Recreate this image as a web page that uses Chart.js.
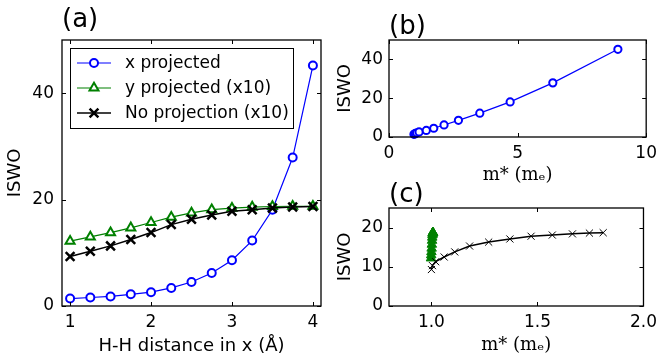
<!DOCTYPE html>
<html lang="en">
<head>
<meta charset="UTF-8">
<title>ISWO vs H-H distance and effective mass</title>
<script src="https://cdn.jsdelivr.net/npm/chart.js@4.4.0/dist/chart.umd.min.js"></script>
<style>
    html, body { margin: 0; padding: 0; background: #fff; }
    #wrap { position: relative; width: 663px; height: 362px; overflow: hidden; }
    canvas { position: absolute; }
</style>
</head>
<body>
<div id="wrap">
    <canvas id="panelA" width="340" height="362" style="left:0;top:0"></canvas>
    <canvas id="panelB" width="333" height="190" style="left:330px;top:0"></canvas>
    <canvas id="panelC" width="333" height="192" style="left:330px;top:170px"></canvas>
</div>
<script>
// H-H distance in x (Angstrom)
const hhDistance = [1, 1.25, 1.5, 1.75, 2, 2.25, 2.5, 2.75, 3, 3.25, 3.5, 3.75, 4];
// ISWO values
const iswoXProj  = [1.4, 1.6, 1.8, 2.2, 2.6, 3.4, 4.5, 6.2, 8.6, 12.3, 18.1, 27.9, 45.2];
const iswoYProj  = [12.2, 13.0, 13.8, 14.7, 15.7, 16.7, 17.5, 18.1, 18.4, 18.6, 18.7, 18.75, 18.75];
const iswoNoProj = [9.3, 10.3, 11.3, 12.5, 13.8, 15.3, 16.3, 17.1, 17.8, 18.1, 18.4, 18.6, 18.7];
// effective mass m* (m_e)
const massXProj  = [0.97, 1.0, 1.03, 1.08, 1.17, 1.45, 1.74, 2.14, 2.70, 3.53, 4.71, 6.37, 8.9];
const massYProj  = [0.998, 0.999, 1.0, 1.001, 1.002, 1.003, 1.004, 1.005, 1.006, 1.006, 1.007, 1.007, 1.007];
const massNoProj = [1.0, 1.005, 1.02, 1.06, 1.11, 1.18, 1.27, 1.37, 1.47, 1.57, 1.665, 1.745, 1.81];

// tick labels
const ticksAX = [1, 2, 3, 4];
const ticksAY = [0, 20, 40];
const ticksBX = [0, 5, 10];
const ticksBY = [0, 20, 40];
const ticksCX = [1.0, 1.5, 2.0];
const ticksCY = [0, 10, 20];

const legendLabels = ['x projected', 'y projected (x10)', 'No projection (x10)'];

const SANS = "'DejaVu Sans', sans-serif";
const SERIF = "'DejaVu Serif', serif";
const BLUE = '#0000ff', GREEN = '#008000', BLACK = '#000000';

function pts(xs, ys) { return xs.map((x, i) => ({ x: x, y: ys[i] })); }

// draws box, inward tick marks on all four sides and the panel letter
const framePlugin = {
    id: 'frame',
    afterDraw(chart, args, opts) {
        const { ctx, chartArea: a } = chart;
        const x = chart.scales.x, y = chart.scales.y;
        ctx.save();
        ctx.strokeStyle = '#000';
        ctx.lineWidth = 1.3;
        ctx.strokeRect(a.left, a.top, a.right - a.left, a.bottom - a.top);
        ctx.lineWidth = 1;
        ctx.beginPath();
        x.ticks.forEach(t => {
            const p = Math.round(x.getPixelForValue(t.value)) + 0.5;
            ctx.moveTo(p, a.bottom); ctx.lineTo(p, a.bottom - 4);
            ctx.moveTo(p, a.top); ctx.lineTo(p, a.top + 4);
        });
        y.ticks.forEach(t => {
            const p = Math.round(y.getPixelForValue(t.value)) + 0.5;
            ctx.moveTo(a.left, p); ctx.lineTo(a.left + 4, p);
            ctx.moveTo(a.right, p); ctx.lineTo(a.right - 4, p);
        });
        ctx.stroke();
        if (opts.label) {
            ctx.fillStyle = '#000';
            ctx.font = '26px ' + SANS;
            ctx.textAlign = 'left';
            ctx.textBaseline = 'alphabetic';
            ctx.fillText(opts.label, a.left, a.top - opts.gap);
        }
        ctx.restore();
    }
};

function marker(ctx, style, x, y, color) {
    ctx.strokeStyle = color;
    ctx.fillStyle = '#fff';
    ctx.lineWidth = 2;
    ctx.beginPath();
    if (style === 'circle') {
        ctx.arc(x, y, 4, 0, Math.PI * 2);
        ctx.fill(); ctx.stroke();
    } else if (style === 'triangle') {
        const r = 5.2;
        ctx.moveTo(x, y - r);
        ctx.lineTo(x + r * 0.866, y + r / 2);
        ctx.lineTo(x - r * 0.866, y + r / 2);
        ctx.closePath();
        ctx.fill(); ctx.stroke();
    } else {
        const d = 4.4;
        ctx.lineWidth = 2.5;
        ctx.moveTo(x - d, y - d); ctx.lineTo(x + d, y + d);
        ctx.moveTo(x - d, y + d); ctx.lineTo(x + d, y - d);
        ctx.stroke();
    }
}

// legend box drawn inside the plot area of panel (a)
const boxLegend = {
    id: 'boxLegend',
    afterDraw(chart) {
        const ctx = chart.ctx;
        const a = chart.chartArea;
        const bx = a.left + 8, by = a.top + 8, bw = 223, bh = 80;
        ctx.save();
        ctx.fillStyle = '#fff';
        ctx.fillRect(bx, by, bw, bh);
        ctx.strokeStyle = '#000';
        ctx.lineWidth = 1;
        ctx.strokeRect(bx + 0.5, by + 0.5, bw, bh);
        chart.data.datasets.forEach((ds, i) => {
            const ry = by + 15 + i * 25;
            ctx.strokeStyle = ds.borderColor;
            ctx.lineWidth = ds.borderWidth;
            ctx.beginPath();
            ctx.moveTo(bx + 7, ry); ctx.lineTo(bx + 41, ry);
            ctx.stroke();
            marker(ctx, ds.pointStyle, bx + 24, ry, ds.borderColor);
            ctx.fillStyle = '#000';
            ctx.font = '17px ' + SANS;
            ctx.textAlign = 'left';
            ctx.textBaseline = 'middle';
            ctx.fillText(legendLabels[i], bx + 55, ry + 1);
        });
        ctx.restore();
    }
};

function fixedTicks(values) {
    return scale => { scale.ticks = values.map(v => ({ value: v })); };
}

function axes(o) {
    return {
        x: {
            type: 'linear', min: o.xmin, max: o.xmax,
            afterBuildTicks: fixedTicks(o.xticks),
            afterFit: s => { s.height = o.xh; },
            grid: { display: false, drawTicks: false },
            border: { display: false },
            ticks: {
                color: '#000', padding: 6, maxRotation: 0, autoSkip: false,
                font: { family: SANS, size: 17 },
                callback: o.xfmt || (v => v)
            },
            title: {
                display: true, text: o.xtitle, color: '#000',
                font: { family: o.xfont, size: o.xsize },
                padding: { top: 0, bottom: o.xpad }
            }
        },
        y: {
            type: 'linear', min: o.ymin, max: o.ymax,
            afterBuildTicks: fixedTicks(o.yticks),
            afterFit: s => { s.width = o.yw; },
            grid: { display: false, drawTicks: false },
            border: { display: false },
            ticks: {
                color: '#000', padding: o.ypadTick, autoSkip: false,
                font: { family: SANS, size: 17 }
            },
            title: {
                display: true, text: 'ISWO', color: '#000',
                font: { family: SANS, size: 18 },
                padding: { top: o.ypad, bottom: 0 }
            }
        }
    };
}

const common = {
    responsive: false,
    animation: false,
    devicePixelRatio: 1,
    plugins: { legend: { display: false }, tooltip: { enabled: false } }
};

// panel (a)
new Chart(document.getElementById('panelA'), {
    type: 'line',
    data: {
        datasets: [
            {
                data: pts(hhDistance, iswoXProj), borderColor: BLUE, borderWidth: 1.2,
                pointStyle: 'circle', pointRadius: 4, pointBorderWidth: 2,
                pointBackgroundColor: '#fff', pointBorderColor: BLUE, order: 3
            },
            {
                data: pts(hhDistance, iswoYProj), borderColor: GREEN, borderWidth: 1.2,
                pointStyle: 'triangle', pointRadius: 5.2, pointBorderWidth: 2,
                pointBackgroundColor: '#fff', pointBorderColor: GREEN, order: 2
            },
            {
                data: pts(hhDistance, iswoNoProj), borderColor: BLACK, borderWidth: 1.5,
                pointStyle: 'crossRot', pointRadius: 6.2, pointBorderWidth: 2.5,
                pointBorderColor: BLACK, order: 1
            }
        ]
    },
    options: Object.assign({}, common, {
        layout: { padding: { top: 40, right: 19, bottom: 0, left: 0 } },
        elements: { line: { tension: 0 } },
        datasets: { line: { clip: false } },
        scales: axes({
            xmin: 0.9, xmax: 4.1, xticks: ticksAX, xh: 56, xpad: 5,
            xtitle: 'H-H distance in x (Å)', xfont: SANS, xsize: 18,
            ymin: 0, ymax: 50, yticks: ticksAY, yw: 62, ypad: 5, ypadTick: 8
        }),
        plugins: Object.assign({}, common.plugins, { frame: { label: '(a)', gap: 13 } })
    }),
    plugins: [framePlugin, boxLegend]
});

// panel (b)
new Chart(document.getElementById('panelB'), {
    type: 'line',
    data: {
        datasets: [{
            data: pts(massXProj, iswoXProj), borderColor: BLUE, borderWidth: 1.2,
            pointStyle: 'circle', pointRadius: 3.6, pointBorderWidth: 2,
            pointBackgroundColor: '#fff', pointBorderColor: BLUE
        }]
    },
    options: Object.assign({}, common, {
        layout: { padding: { top: 40, right: 15, bottom: 0, left: 0 } },
        elements: { line: { tension: 0 } },
        datasets: { line: { clip: false } },
        scales: axes({
            xmin: 0, xmax: 10, xticks: ticksBX, xh: 53, xpad: 4,
            xtitle: 'm* (mₑ)', xfont: SERIF, xsize: 18,
            ymin: 0, ymax: 50, yticks: ticksBY, yw: 59, ypad: 5, ypadTick: 6
        }),
        plugins: Object.assign({}, common.plugins, { frame: { label: '(b)', gap: 6 } })
    }),
    plugins: [framePlugin]
});

// panel (c)
new Chart(document.getElementById('panelC'), {
    type: 'line',
    data: {
        datasets: [
            {
                data: pts(massYProj, iswoYProj), borderColor: GREEN, borderWidth: 1,
                pointStyle: 'triangle', pointRadius: 5.5, pointBorderWidth: 1,
                pointBackgroundColor: GREEN, pointBorderColor: GREEN, order: 2
            },
            {
                data: pts(massNoProj, iswoNoProj), borderColor: BLACK, borderWidth: 1.5,
                pointStyle: 'crossRot', pointRadius: 5, pointBorderWidth: 1,
                pointBorderColor: BLACK, order: 1
            }
        ]
    },
    options: Object.assign({}, common, {
        layout: { padding: { top: 38, right: 15, bottom: 0, left: 0 } },
        elements: { line: { tension: 0 } },
        datasets: { line: { clip: false } },
        scales: axes({
            xmin: 0.8, xmax: 2.0, xticks: ticksCX, xh: 56, xpad: 6,
            xtitle: 'm* (mₑ)', xfont: SERIF, xsize: 18, xfmt: v => v.toFixed(1),
            ymin: 0, ymax: 25, yticks: ticksCY, yw: 59, ypad: 5, ypadTick: 6
        }),
        plugins: Object.assign({}, common.plugins, { frame: { label: '(c)', gap: 6 } })
    }),
    plugins: [framePlugin]
});
</script>
</body>
</html>
